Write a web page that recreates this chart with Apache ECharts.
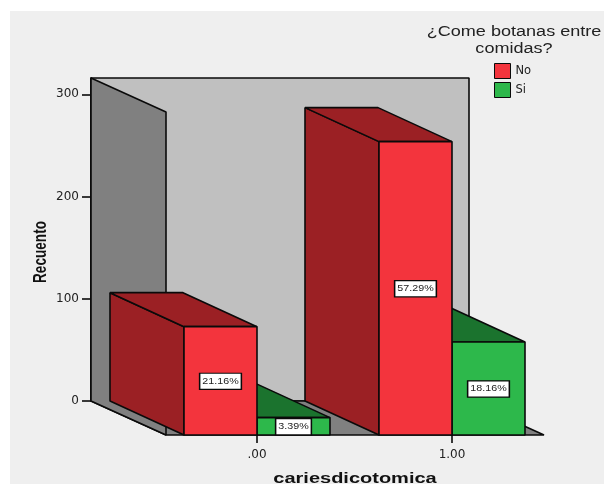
<!DOCTYPE html>
<html>
<head>
<meta charset="utf-8">
<style>html,body{margin:0;padding:0;background:#fff}#chart{width:604px;height:484px}</style>
<script src="https://cdn.jsdelivr.net/npm/echarts@6/dist/echarts.min.js"></script>
</head>
<body>
<div id="chart"></div>
<script>
// Counts by caries status and snacking answer
const categories = ['.00', '1.00'];
const noCounts = [106, 287];
const siCounts = [17, 91];
const noPercent = ['21.16%', '57.29%'];
const siPercent = ['3.39%', '18.16%'];
const yTicks = [0, 100, 200, 300];
const yTop = 316;

// Oblique projection used for the box look
const WALL_DX = 75, WALL_DY = 34, BAR_DX = 74, BAR_DY = 34;
const BAR_SHARE = 73 / 195;
const INK = '#0a0a0a';
const SANS = '"Liberation Sans", Arial, sans-serif';
const TICK_FONT = '"DejaVu Sans", sans-serif';
const STRETCH = 1.29;

const poly = (points, fill, z2) => ({
  type: 'polygon', z2: z2 || 0, silent: true,
  shape: { points },
  style: { fill, stroke: INK, lineWidth: 1.6, lineJoin: 'bevel' }
});

function renderRoom(params, api) {
  const tl = api.coord([0, yTop]), tr = api.coord([1, yTop]);
  const bl = api.coord([0, 0]), br = api.coord([1, 0]);
  const d = (p, k) => [p[0] + WALL_DX * k, p[1] + WALL_DY * k];
  return {
    type: 'group',
    children: [
      poly([tl, tr, br, bl], '#c0c0c0'),
      poly([bl, br, d(br, 1), d(bl, 1)], '#808080'),
      poly([tl, d(tl, 1), d(bl, 1), bl], '#808080')
    ]
  };
}

function barRenderer(side, front, dark, texts) {
  return function (params, api) {
    const i = api.value(0), v = api.value(1);
    const top = api.coord([i, v]), base = api.coord([i, 0]);
    const w = api.size([1, 0])[0] * BAR_SHARE;
    const x0 = side < 0 ? top[0] - w : top[0];
    const x1 = x0 + w;
    const yT = top[1], yB = base[1];
    return {
      type: 'group',
      children: [
        poly([[x0 - BAR_DX, yT - BAR_DY], [x0, yT], [x0, yB], [x0 - BAR_DX, yB - BAR_DY]], dark),
        poly([[x0 - BAR_DX, yT - BAR_DY], [x1 - BAR_DX, yT - BAR_DY], [x1, yT], [x0, yT]], dark),
        poly([[x0, yT], [x1, yT], [x1, yB], [x0, yB]], front),
        {
          type: 'text', silent: true, z2: 5,
          x: (x0 + x1) / 2, y: (yT + yB) / 2 + 0.5, scaleX: STRETCH,
          style: {
            x: 0, y: 0,
            text: texts[i], align: 'center', verticalAlign: 'middle',
            font: '8.3px ' + SANS, fill: '#222',
            backgroundColor: '#fff', borderColor: INK, borderWidth: 1.2,
            padding: [4, 1.5, 3, 1.5]
          }
        }
      ]
    };
  };
}

const chart = echarts.init(document.getElementById('chart'), null, { renderer: 'canvas' });
chart.setOption({
  animation: false,
  backgroundColor: '#fff',
  graphic: [
    {
      type: 'rect', silent: true, z: -10,
      shape: { x: 10, y: 11, width: 594, height: 473 },
      style: { fill: '#efefef' }
    },
    {
      type: 'text', silent: true, x: 514, y: 40.5, scaleX: STRETCH, z: 10,
      style: {
        text: '¿Come botanas entre\ncomidas?', align: 'center', verticalAlign: 'middle',
        font: '14px ' + SANS, lineHeight: 17, fill: '#222'
      }
    },
    {
      type: 'text', silent: true, x: 355, y: 479, scaleX: STRETCH, z: 10,
      style: {
        text: 'cariesdicotomica', align: 'center', verticalAlign: 'middle',
        font: 'bold 15.5px ' + SANS, fill: '#111'
      }
    },
    {
      type: 'text', silent: true, x: 41, y: 252, rotation: Math.PI / 2, scaleY: STRETCH, z: 10,
      style: {
        text: 'Recuento', align: 'center', verticalAlign: 'middle',
        font: 'bold 13.6px ' + SANS, fill: '#111'
      }
    }
  ],
  legend: {
    data: ['No', 'Si'], orient: 'vertical', left: 494, top: 63, padding: 0,
    itemWidth: 16, itemHeight: 15, itemGap: 3,
    icon: 'rect',
    itemStyle: { borderColor: INK, borderWidth: 1 },
    textStyle: { fontFamily: TICK_FONT, fontSize: 11.5, color: '#222' }
  },
  grid: [
    { left: 159.5, width: 390, top: 112, height: 323, outerBoundsMode: 'none' },
    { left: 91, width: 378, top: 78, height: 323, outerBoundsMode: 'none' }
  ],
  xAxis: [
    {
      type: 'category', gridIndex: 0, data: categories, position: 'bottom',
      axisLine: { show: false },
      axisTick: { show: true, alignWithLabel: true, length: 8, lineStyle: { color: INK, width: 1.6 } },
      axisLabel: { fontFamily: TICK_FONT, fontSize: 12, color: '#222', margin: 14 }
    },
    { type: 'value', gridIndex: 1, min: 0, max: 1, show: false }
  ],
  yAxis: [
    { type: 'value', gridIndex: 0, min: 0, max: yTop, show: false },
    {
      type: 'value', gridIndex: 1, min: 0, max: yTop, interval: 100,
      splitLine: { show: false },
      axisLine: { show: true, lineStyle: { color: INK, width: 1.6 } },
      axisTick: { show: true, length: 9, customValues: yTicks, lineStyle: { color: INK, width: 1.6 } },
      axisLabel: { customValues: yTicks, fontFamily: TICK_FONT, fontSize: 12, color: '#222', margin: 12 }
    }
  ],
  series: [
    {
      type: 'custom', name: 'room', xAxisIndex: 1, yAxisIndex: 1, z: 1, clip: false,
      data: [[0, 0]], renderItem: renderRoom, silent: true
    },
    {
      type: 'custom', name: 'Si', xAxisIndex: 0, yAxisIndex: 0, z: 2, clip: false, silent: true,
      itemStyle: { color: '#2db84b' },
      data: siCounts.map((v, i) => [i, v]),
      encode: { x: 0, y: 1 },
      renderItem: barRenderer(1, '#2db84b', '#1b732e', siPercent)
    },
    {
      type: 'custom', name: 'No', xAxisIndex: 0, yAxisIndex: 0, z: 3, clip: false, silent: true,
      itemStyle: { color: '#f3343d' },
      data: noCounts.map((v, i) => [i, v]),
      encode: { x: 0, y: 1 },
      renderItem: barRenderer(-1, '#f3343d', '#9b2024', noPercent)
    }
  ]
});
</script>
</body>
</html>
